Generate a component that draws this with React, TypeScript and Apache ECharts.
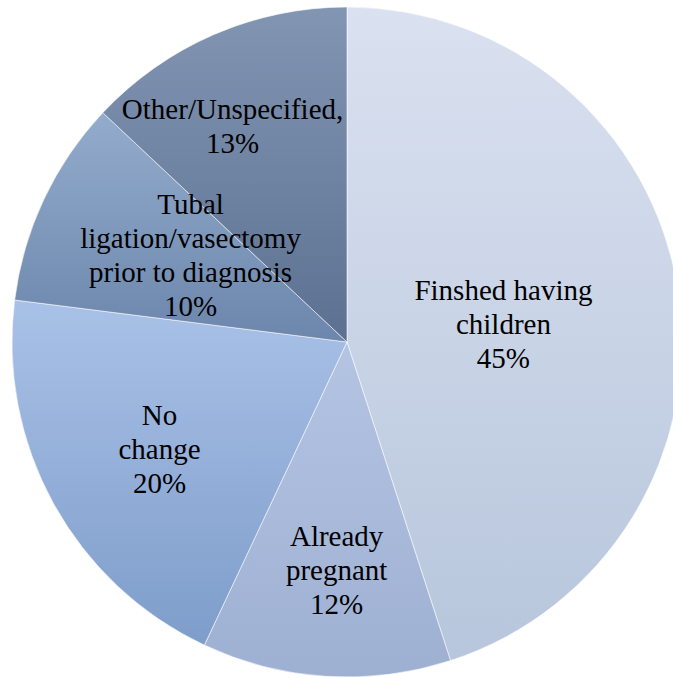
import React, { useEffect, useRef } from "react";
import * as echarts from "echarts";

const categories = [
  "Finshed having\nchildren",
  "Already\npregnant",
  "No\nchange",
  "Tubal\nligation/vasectomy\nprior to diagnosis",
  "Other/Unspecified,",
];
const values = [45, 12, 20, 10, 13];
const topColors = ["#dae1f0", "#b4c4e3", "#a9c1e7", "#93accd", "#8295b3"];
const bottomColors = ["#b7c6dc", "#9eb0d2", "#7e9dca", "#6c86ac", "#5c7191"];
const labelRadiusFrac = [0.47, 0.68, 0.645, 0.535, 0.73];
const labelAngleShift = [2.5, -1, -1, 4, -4.5];

const CX = 347;
const CY = 342;
const R = 335;
const FONT = "Times New Roman, Liberation Serif, serif";

export default function App() {
  const ref = useRef<HTMLDivElement>(null);
  useEffect(() => {
    if (!ref.current) return;
    const chart = echarts.init(ref.current, null, { renderer: "svg" });
    const total = values.reduce((a, b) => a + b, 0);
    const mids: number[] = [];
    let acc = 0;
    values.forEach((v) => {
      mids.push(((acc + v / 2) / total) * 360);
      acc += v;
    });
    chart.setOption({
      animation: false,
      backgroundColor: "#ffffff",
      textStyle: { fontFamily: FONT },
      series: [
        {
          type: "pie",
          center: [CX, CY],
          radius: [0, R],
          startAngle: 90,
          clockwise: true,
          avoidLabelOverlap: false,
          labelLine: { show: false },
          label: {
            show: true,
            position: "inside",
            fontFamily: FONT,
            fontSize: 29,
            lineHeight: 34,
            color: "#000000",
            align: "center",
            formatter: (p: any) => `${p.name}\n${p.value}%`,
          },
          labelLayout: (p: any) => {
            const i = p.dataIndex;
            const a = ((mids[i] + labelAngleShift[i]) * Math.PI) / 180;
            const r = labelRadiusFrac[i] * R;
            return {
              x: CX + r * Math.sin(a),
              y: CY - r * Math.cos(a),
              align: "center",
              verticalAlign: "middle",
            };
          },
          itemStyle: {
            borderColor: "rgba(255,255,255,0.55)",
            borderWidth: 1,
          },
          emphasis: { disabled: true },
          data: values.map((v, i) => ({
            name: categories[i],
            value: v,
            itemStyle: {
              color: new echarts.graphic.LinearGradient(0, 0, 0, 1, [
                { offset: 0, color: topColors[i] },
                { offset: 1, color: bottomColors[i] },
              ]),
            },
          })),
        },
      ],
    });
    return () => chart.dispose();
  }, []);
  return (
    <div
      ref={ref}
      style={{ position: "absolute", left: 0, top: 0, width: 673, height: 678 }}
    />
  );
}
